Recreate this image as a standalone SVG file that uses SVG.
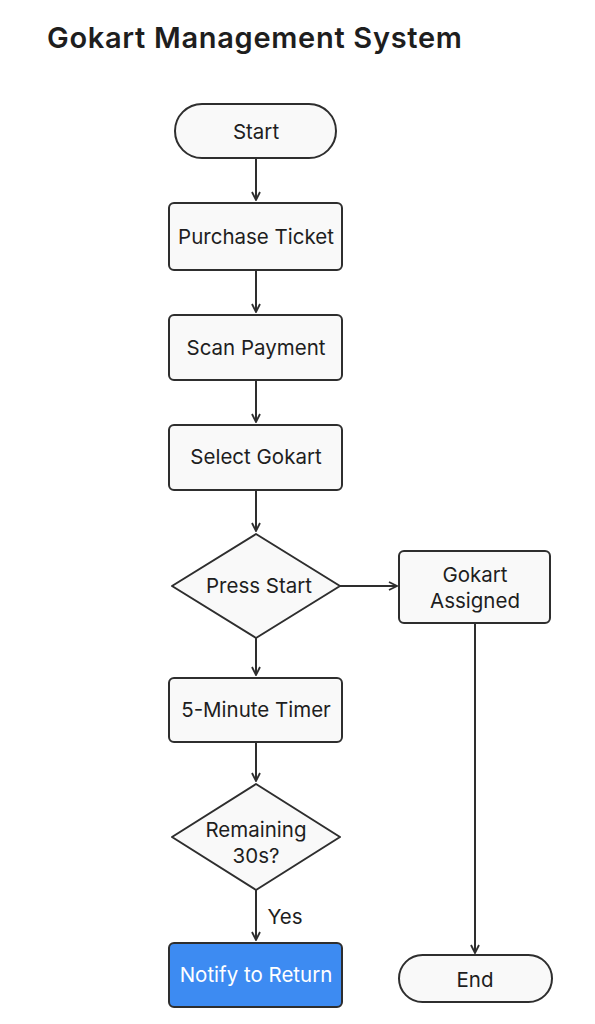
<svg xmlns="http://www.w3.org/2000/svg" width="595" height="1024" viewBox="0 0 595 1024">
<style>
.n{fill:#f9f9f9;stroke:#2e2e2e;stroke-width:2}
.t{font-family:Inter,"Liberation Sans",sans-serif;font-size:20.5px;fill:#1e1e1e;text-anchor:middle}
.c{stroke:#2e2e2e;stroke-width:2;fill:none;marker-end:url(#a)}
</style>
<defs>
<marker id="a" viewBox="0 0 10 10" refX="9" refY="5" markerWidth="10" markerHeight="10" markerUnits="userSpaceOnUse" orient="auto">
<path d="M1,1 L9,5 L1,9" fill="none" stroke="#2e2e2e" stroke-width="1.8"/>
</marker>
</defs>
<rect width="595" height="1024" fill="#ffffff"/>
<text x="47" y="48" font-family="Inter,'Liberation Sans',sans-serif" font-size="29" font-weight="600" letter-spacing="0.7" fill="#1e1e1e">Gokart Management System</text>
<g id="connectors">
<path class="c" d="M256,158 V200"/>
<path class="c" d="M256,270 V312"/>
<path class="c" d="M256,380 V422"/>
<path class="c" d="M256,490 V531"/>
<path class="c" d="M340,586 H397"/>
<path class="c" d="M256,638 V675"/>
<path class="c" d="M256,742 V781"/>
<path class="c" d="M256,890 V940"/>
<path class="c" d="M475,623 V953"/>
<text class="t" x="285" y="924">Yes</text>
</g>
<g id="start"><rect class="n" x="175" y="104" width="161" height="54" rx="27"/><text class="t" x="256" y="139">Start</text></g>
<g id="purchase"><rect class="n" x="169" y="203" width="173" height="67" rx="5"/><text class="t" x="256" y="244">Purchase Ticket</text></g>
<g id="scan"><rect class="n" x="169" y="315" width="173" height="65" rx="5"/><text class="t" x="256" y="355">Scan Payment</text></g>
<g id="select"><rect class="n" x="169" y="425" width="173" height="65" rx="5"/><text class="t" x="256" y="464">Select Gokart</text></g>
<g id="press"><path class="n" d="M256,534 L340,586 L256,638 L172,586 Z" stroke-linejoin="round"/><text class="t" x="259" y="593">Press Start</text></g>
<g id="assigned"><rect class="n" x="399" y="551" width="151" height="72" rx="5"/><text class="t" x="475" y="582">Gokart</text><text class="t" x="475" y="608">Assigned</text></g>
<g id="timer"><rect class="n" x="169" y="678" width="173" height="64" rx="5"/><text class="t" x="256" y="717">5-Minute Timer</text></g>
<g id="remaining"><path class="n" d="M256,784 L340,837 L256,890 L172,837 Z" stroke-linejoin="round"/><text class="t" x="256" y="837">Remaining</text><text class="t" x="256" y="863">30s?</text></g>
<g id="notify"><rect x="169" y="943" width="173" height="64" rx="5" fill="#3d8bf2" stroke="#2e2e2e" stroke-width="2"/><text class="t" x="256" y="982" style="fill:#ffffff">Notify to Return</text></g>
<g id="end"><rect class="n" x="399" y="955" width="153" height="47" rx="23.5"/><text class="t" x="475" y="987">End</text></g>
</svg>
